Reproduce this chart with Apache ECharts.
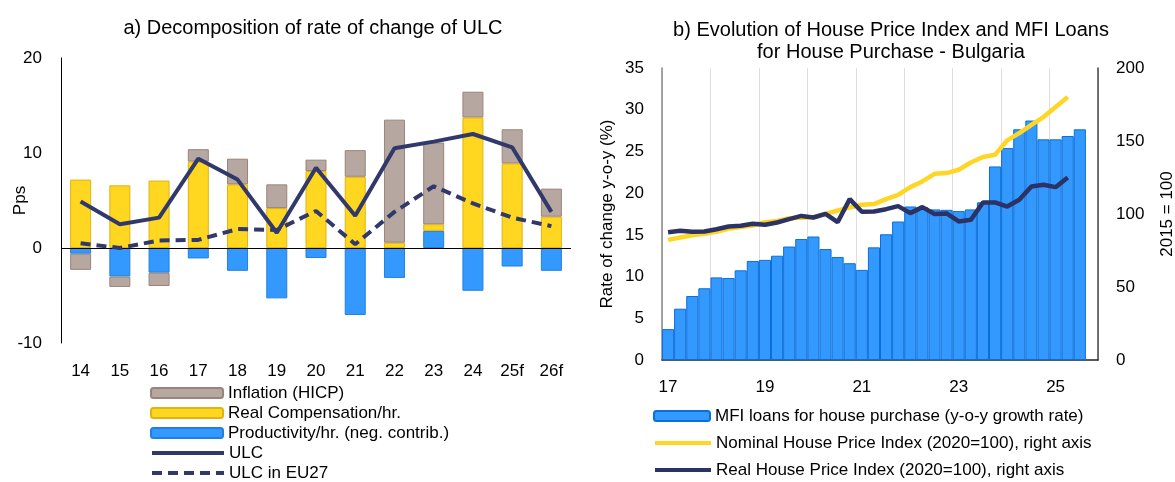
<!DOCTYPE html>
<html>
<head>
<meta charset="utf-8">
<script src="https://cdn.jsdelivr.net/npm/echarts@6/dist/echarts.min.js"></script>
<style>
html,body{margin:0;padding:0;background:#fff;}
#c{width:1175px;height:482px;}
</style>
</head>
<body>
<div id="c"></div>
<script>
// ---- Panel a) data ----
const years = ['14','15','16','17','18','19','20','21','22','23','24','25f','26f'];
const inflation = [-1.7, -1.1, -1.4, 1.3, 2.7, 2.5, 1.2, 2.8, 12.95, 8.6, 2.7, 3.6, 2.95];
const realComp = [7.2, 6.6, 7.1, 9.1, 6.7, 4.2, 8.1, 7.5, 0.56, 0.7, 13.75, 8.9, 3.3];
const productivity = [-0.6, -3.0, -2.6, -1.1, -2.4, -5.3, -1.05, -7.05, -3.15, 1.8, -4.5, -1.95, -2.4];
const ulc = [4.9, 2.5, 3.2, 9.4, 7.2, 1.6, 8.45, 3.4, 10.5, 11.2, 12.0, 10.6, 3.8];
const ulcEU = [0.5, 0.0, 0.8, 0.85, 2.0, 1.9, 3.9, 0.4, 3.8, 6.5, 4.7, 3.2, 2.3];

// ---- Panel b) data ----
const quarters = ['17Q1','17Q2','17Q3','17Q4','18Q1','18Q2','18Q3','18Q4','19Q1','19Q2','19Q3','19Q4',
  '20Q1','20Q2','20Q3','20Q4','21Q1','21Q2','21Q3','21Q4','22Q1','22Q2','22Q3','22Q4',
  '23Q1','23Q2','23Q3','23Q4','24Q1','24Q2','24Q3','24Q4','25Q1','25Q2','25Q3','25Q4'];
const mfiLoans = [3.7, 6.15, 7.67, 8.6, 9.9, 9.83, 10.75, 11.87, 12.0, 12.5, 13.6, 14.5,
  14.8, 13.3, 12.35, 11.6, 10.8, 13.5, 15.07, 16.6, 18.4, 18.3, 18.05, 18.0,
  17.85, 18.05, 18.9, 23.2, 25.4, 27.65, 28.7, 26.45, 26.45, 26.85, 27.65];
const nominalHPI = [82.3, 83.9, 85.5, 86.4, 87.8, 89.8, 91.0, 92.1, 94.4, 95.3, 97.1, 97.5,
  97.8, 100.1, 102.4, 104.5, 106.3, 106.8, 110.2, 113.1, 118.4, 122.3, 127.5, 128.0,
  130.3, 135.3, 139.0, 140.6, 150.4, 155.4, 161.1, 166.4, 173.3, 180.1];
const realHPI = [87.5, 88.5, 87.8, 88.0, 89.6, 91.4, 91.9, 93.3, 92.6, 94.2, 96.5, 98.7,
  97.6, 100.1, 94.4, 110.2, 101.5, 101.7, 103.3, 105.4, 100.6, 104.7, 100.0, 100.4,
  94.9, 96.0, 107.9, 107.9, 105.1, 109.7, 118.9, 120.0, 118.4, 125.0];

const FONT = 'Liberation Sans, Arial, sans-serif';
const NAVY = '#30386c';
const TXT = 17;

const legendText = {fontFamily: FONT, fontSize: TXT, color: '#000', lineHeight: 18};
function leg(name, left, top, w, isLine) {
  const item = isLine ? {name: name, itemStyle: {opacity: 0}} : {name: name};
  const l = {orient: 'horizontal', left: left, top: top, padding: 0, itemWidth: w, itemHeight: 10,
    selectedMode: false, textStyle: legendText, data: [item]};
  if (isLine) l.lineStyle = {width: 4};
  return l;
}

const chart = echarts.init(document.getElementById('c'), null, {renderer: 'canvas'});
chart.setOption({
  animation: false,
  backgroundColor: '#fff',
  textStyle: {fontFamily: FONT, color: '#000'},
  title: [
    {text: 'a) Decomposition of rate of change of ULC', left: 308, top: 13, textAlign: 'center',
     textStyle: {fontFamily: FONT, fontSize: 20, fontWeight: 'normal', color: '#000'}},
    {text: 'b) Evolution of House Price Index and MFI Loans\nfor House Purchase - Bulgaria', left: 886, top: 14, textAlign: 'center',
     textStyle: {fontFamily: FONT, fontSize: 20, fontWeight: 'normal', color: '#000', lineHeight: 22}}
  ],
  legend: [
    leg('Inflation (HICP)', 150, 384, 72, false),
    leg('Real Compensation/hr.', 150, 404, 72, false),
    leg('Productivity/hr. (neg. contrib.)', 150, 424, 72, false),
    leg('ULC', 150, 444, 72, true),
    leg('ULC in EU27', 150, 464, 72, true),
    leg('MFI loans for house purchase (y-o-y growth rate)', 653, 407, 56, false),
    leg('Nominal House Price Index (2020=100), right axis', 653, 434, 56, true),
    leg('Real House Price Index (2020=100), right axis', 653, 461, 56, true)
  ],
  grid: [
    {left: 61, top: 58, width: 510, height: 285, outerBoundsMode: 'none', containLabel: false},
    {left: 662, top: 68, width: 436, height: 292, outerBoundsMode: 'none', containLabel: false}
  ],
  xAxis: [
    {type: 'category', gridIndex: 0, data: years,
     axisLine: {show: false}, axisTick: {show: false},
     axisLabel: {fontFamily: FONT, fontSize: TXT, color: '#000', margin: 20, interval: 0}},
    {type: 'category', gridIndex: 1, data: quarters, boundaryGap: true,
     axisLine: {lineStyle: {color: '#222', width: 1.5}}, axisTick: {show: false},
     axisLabel: {fontFamily: FONT, fontSize: TXT, color: '#000', margin: 19, interval: 7,
       formatter: v => v.slice(0, 2)},
     splitLine: {show: true, interval: 3, lineStyle: {color: '#e3dcdc', width: 1}}}
  ],
  yAxis: [
    {type: 'value', gridIndex: 0, min: -10, max: 20, interval: 10,
     name: 'Pps', nameLocation: 'middle', nameRotate: 90, nameGap: 32, nameMoveOverlap: false,
     nameTextStyle: {fontFamily: FONT, fontSize: TXT, color: '#000'},
     axisLine: {show: true, lineStyle: {color: '#000', width: 1}}, axisTick: {show: false},
     splitLine: {show: false},
     axisLabel: {fontFamily: FONT, fontSize: TXT, color: '#000', margin: 19}},
    {type: 'value', gridIndex: 1, min: 0, max: 35, interval: 5,
     name: 'Rate of change y-o-y (%)', nameLocation: 'middle', nameRotate: 90, nameGap: 46, nameMoveOverlap: false,
     nameTextStyle: {fontFamily: FONT, fontSize: TXT, color: '#000'},
     axisLine: {show: true, lineStyle: {color: '#888', width: 1.5}}, axisTick: {show: false},
     splitLine: {show: false},
     axisLabel: {fontFamily: FONT, fontSize: TXT, color: '#000', margin: 18}},
    {type: 'value', gridIndex: 1, position: 'right', min: 0, max: 200, interval: 50,
     name: '2015 = 100', nameLocation: 'middle', nameRotate: 90, nameGap: 61, nameMoveOverlap: false,
     nameTextStyle: {fontFamily: FONT, fontSize: TXT, color: '#000'},
     axisLine: {show: true, lineStyle: {color: '#444', width: 1.5}}, axisTick: {show: false},
     splitLine: {show: false},
     axisLabel: {fontFamily: FONT, fontSize: TXT, color: '#000', margin: 18}}
  ],
  series: [
    {name: 'Productivity/hr. (neg. contrib.)', type: 'bar', stack: 'a', xAxisIndex: 0, yAxisIndex: 0,
     barWidth: 21, data: productivity,
     itemStyle: {color: '#3399ff', borderColor: '#1f80e0', borderWidth: 1},
     markLine: {silent: true, symbol: 'none', label: {show: false},
       lineStyle: {color: '#000', width: 1, type: 'solid'}, data: [{yAxis: 0}]}},
    {name: 'Real Compensation/hr.', type: 'bar', stack: 'a', xAxisIndex: 0, yAxisIndex: 0,
     barWidth: 21, data: realComp,
     itemStyle: {color: '#ffd620', borderColor: '#e0b310', borderWidth: 1}},
    {name: 'Inflation (HICP)', type: 'bar', stack: 'a', xAxisIndex: 0, yAxisIndex: 0,
     barWidth: 21, data: inflation,
     itemStyle: {color: '#b6a8a0', borderColor: '#9a8378', borderWidth: 1}},
    {name: 'ULC', type: 'line', xAxisIndex: 0, yAxisIndex: 0, data: ulc,
     symbol: 'none', lineStyle: {color: NAVY, width: 4}, itemStyle: {color: NAVY}, z: 5},
    {name: 'ULC in EU27', type: 'line', xAxisIndex: 0, yAxisIndex: 0, data: ulcEU,
     symbol: 'none', lineStyle: {color: NAVY, width: 4, type: [10, 6]}, itemStyle: {color: NAVY}, z: 5},

    {name: 'MFI loans for house purchase (y-o-y growth rate)', type: 'bar', xAxisIndex: 1, yAxisIndex: 1,
     barCategoryGap: '0%', data: mfiLoans,
     itemStyle: {color: '#3399ff', borderColor: '#0a6fd8', borderWidth: 1}},
    {name: 'Nominal House Price Index (2020=100), right axis', type: 'line', xAxisIndex: 1, yAxisIndex: 2,
     data: nominalHPI, symbol: 'none', lineStyle: {color: '#ffd625', width: 4.5}, itemStyle: {color: '#ffd625'}, z: 5},
    {name: 'Real House Price Index (2020=100), right axis', type: 'line', xAxisIndex: 1, yAxisIndex: 2,
     data: realHPI, symbol: 'none', lineStyle: {color: '#2c3264', width: 4.5}, itemStyle: {color: '#2c3264'}, z: 6}
  ]
});
</script>
</body>
</html>
